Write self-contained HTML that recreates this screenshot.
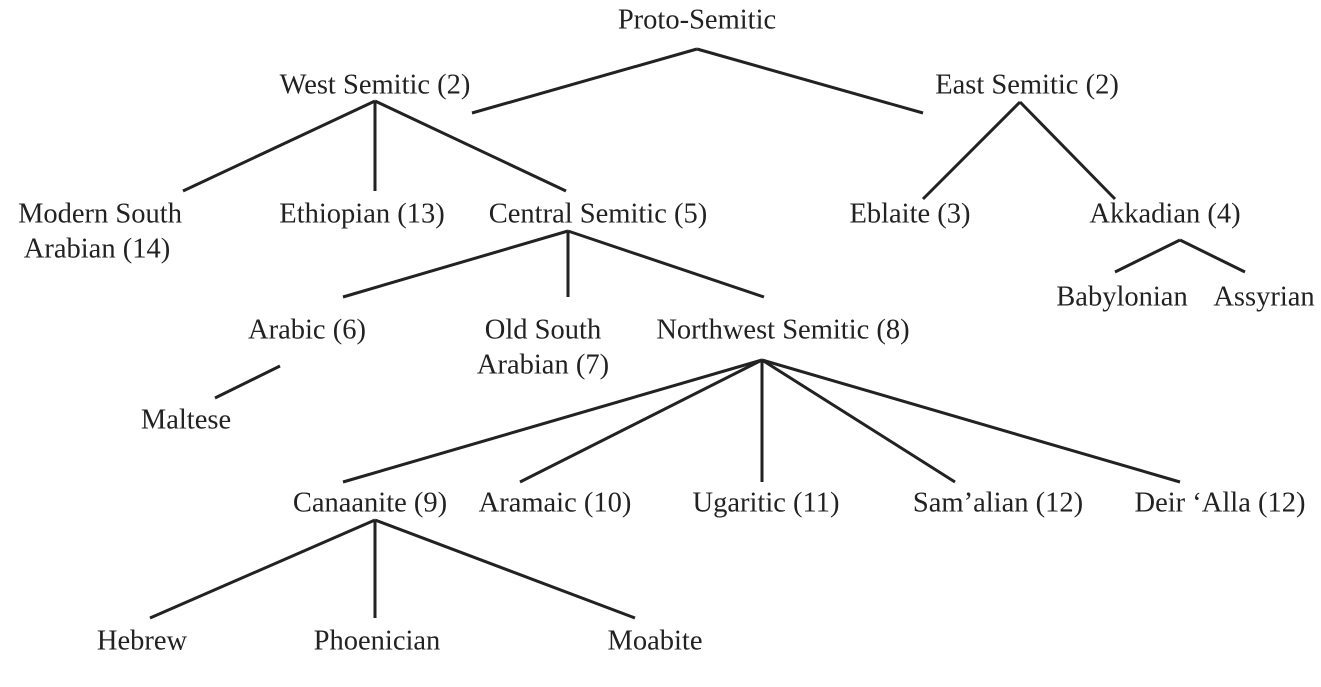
<!DOCTYPE html>
<html><head><meta charset="utf-8"><style>
html,body{margin:0;padding:0;background:#fff;}
svg{display:block;}
text{font-family:"Liberation Serif",serif;font-size:28.5px;fill:#222;text-anchor:middle;dominant-baseline:central;}
line{stroke:#222;stroke-width:3;}
</style></head><body>
<svg width="1321" height="687" viewBox="0 0 1321 687">
<line x1="697" y1="49" x2="472" y2="113"/>
<line x1="697" y1="49" x2="923" y2="113"/>
<line x1="375" y1="101" x2="183" y2="191"/>
<line x1="375" y1="101" x2="375" y2="191"/>
<line x1="375" y1="101" x2="566" y2="191"/>
<line x1="1020" y1="102" x2="923" y2="199"/>
<line x1="1020" y1="102" x2="1115" y2="199"/>
<line x1="568" y1="231" x2="343" y2="297"/>
<line x1="568" y1="231" x2="568" y2="297"/>
<line x1="568" y1="231" x2="764" y2="297"/>
<line x1="1180" y1="240" x2="1115" y2="272"/>
<line x1="1180" y1="240" x2="1245" y2="272"/>
<line x1="280" y1="366" x2="215" y2="398"/>
<line x1="762" y1="360" x2="343" y2="482"/>
<line x1="762" y1="360" x2="520" y2="482"/>
<line x1="762" y1="360" x2="762" y2="482"/>
<line x1="762" y1="360" x2="955" y2="482"/>
<line x1="762" y1="360" x2="1180" y2="482"/>
<line x1="375" y1="520" x2="150" y2="618"/>
<line x1="375" y1="520" x2="375" y2="618"/>
<line x1="375" y1="520" x2="635" y2="618"/>
<text x="697" y="20">Proto-Semitic</text>
<text x="375" y="85">West Semitic (2)</text>
<text x="1027" y="85">East Semitic (2)</text>
<text x="100" y="214">Modern South</text>
<text x="97" y="249">Arabian (14)</text>
<text x="362" y="214">Ethiopian (13)</text>
<text x="598" y="214">Central Semitic (5)</text>
<text x="910" y="214">Eblaite (3)</text>
<text x="1165" y="214">Akkadian (4)</text>
<text x="1122" y="297">Babylonian</text>
<text x="1264" y="297">Assyrian</text>
<text x="307" y="330">Arabic (6)</text>
<text x="543" y="330">Old South</text>
<text x="543" y="365">Arabian (7)</text>
<text x="783" y="330">Northwest Semitic (8)</text>
<text x="186" y="420">Maltese</text>
<text x="370" y="503">Canaanite (9)</text>
<text x="555" y="503">Aramaic (10)</text>
<text x="766" y="503">Ugaritic (11)</text>
<text x="998" y="503">Sam’alian (12)</text>
<text x="1220" y="503">Deir ‘Alla (12)</text>
<text x="142" y="641">Hebrew</text>
<text x="377" y="641">Phoenician</text>
<text x="655" y="641">Moabite</text>
</svg>
</body></html>
